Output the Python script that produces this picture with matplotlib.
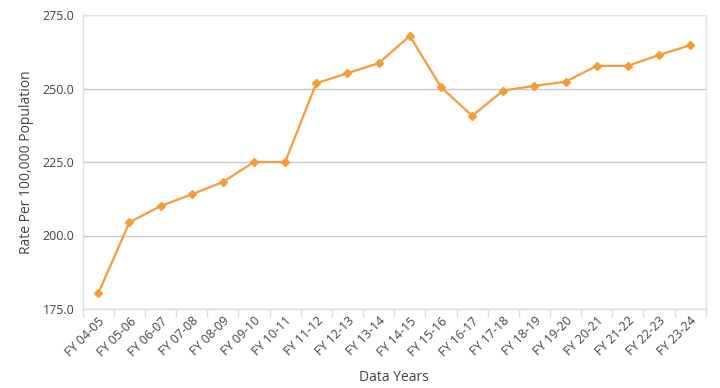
import matplotlib
matplotlib.use("Agg")
import matplotlib.pyplot as plt
from matplotlib.ticker import FixedLocator, NullFormatter, FixedFormatter

categories = ["FY 04-05", "FY 05-06", "FY 06-07", "FY 07-08", "FY 08-09", "FY 09-10",
              "FY 10-11", "FY 11-12", "FY 12-13", "FY 13-14", "FY 14-15", "FY 15-16",
              "FY 16-17", "FY 17-18", "FY 18-19", "FY 19-20", "FY 20-21", "FY 21-22",
              "FY 22-23", "FY 23-24"]
rates = [180.3, 204.5, 210.0, 214.0, 218.2, 225.0, 225.0, 251.8, 255.2, 258.6,
         267.9, 250.5, 240.7, 249.3, 250.9, 252.3, 257.7, 257.7, 261.4, 264.7]
yticks = [175.0, 200.0, 225.0, 250.0, 275.0]

plt.rcParams['font.family'] = ['Open Sans', 'DejaVu Sans']

fig = plt.figure(figsize=(7.2, 3.88), dpi=100)
ax = fig.add_axes([82.7/720, 1-309/388, (705.7-82.7)/720, (309-15)/388])

x = list(range(len(categories)))
ax.plot(x, rates, color="#F59B38", lw=1.6, marker="D", ms=4.5, zorder=3)

ax.set_xlim(-0.5, len(categories)-0.5)
ax.set_ylim(175, 275)
ax.set_yticks(yticks)
ax.set_yticklabels([f"{v:.1f}" for v in yticks], fontsize=9, color="#444444")
ax.tick_params(axis='y', length=0, pad=6)
ax.grid(axis='y', color="#c8c8c8", lw=1)
ax.set_axisbelow(True)

ax.xaxis.set_major_locator(FixedLocator([i - 0.5 for i in range(len(categories)+1)]))
ax.xaxis.set_major_formatter(NullFormatter())
ax.xaxis.set_minor_locator(FixedLocator(x))
ax.xaxis.set_minor_formatter(FixedFormatter(categories))
ax.tick_params(axis='x', which='major', length=6, color="#d5ddec", width=1)
ax.tick_params(axis='x', which='minor', length=0, pad=4)
for lbl in ax.get_xticklabels(minor=True):
    lbl.set_rotation(45)
    lbl.set_ha('right')
    lbl.set_rotation_mode('anchor')
    lbl.set_fontsize(9)
    lbl.set_color("#444444")

for side in ['top', 'right', 'left']:
    ax.spines[side].set_color("#e2e2e2")
    ax.spines[side].set_linewidth(1)
ax.spines['bottom'].set_color("#d5ddec")
ax.spines['bottom'].set_linewidth(1)

ax.set_xlabel("Data Years", fontsize=10, color="#444444", labelpad=8)
ax.set_ylabel("Rate Per 100,000 Population", fontsize=10, color="#444444", labelpad=6)

fig.savefig("out.png", dpi=100, facecolor="white")
